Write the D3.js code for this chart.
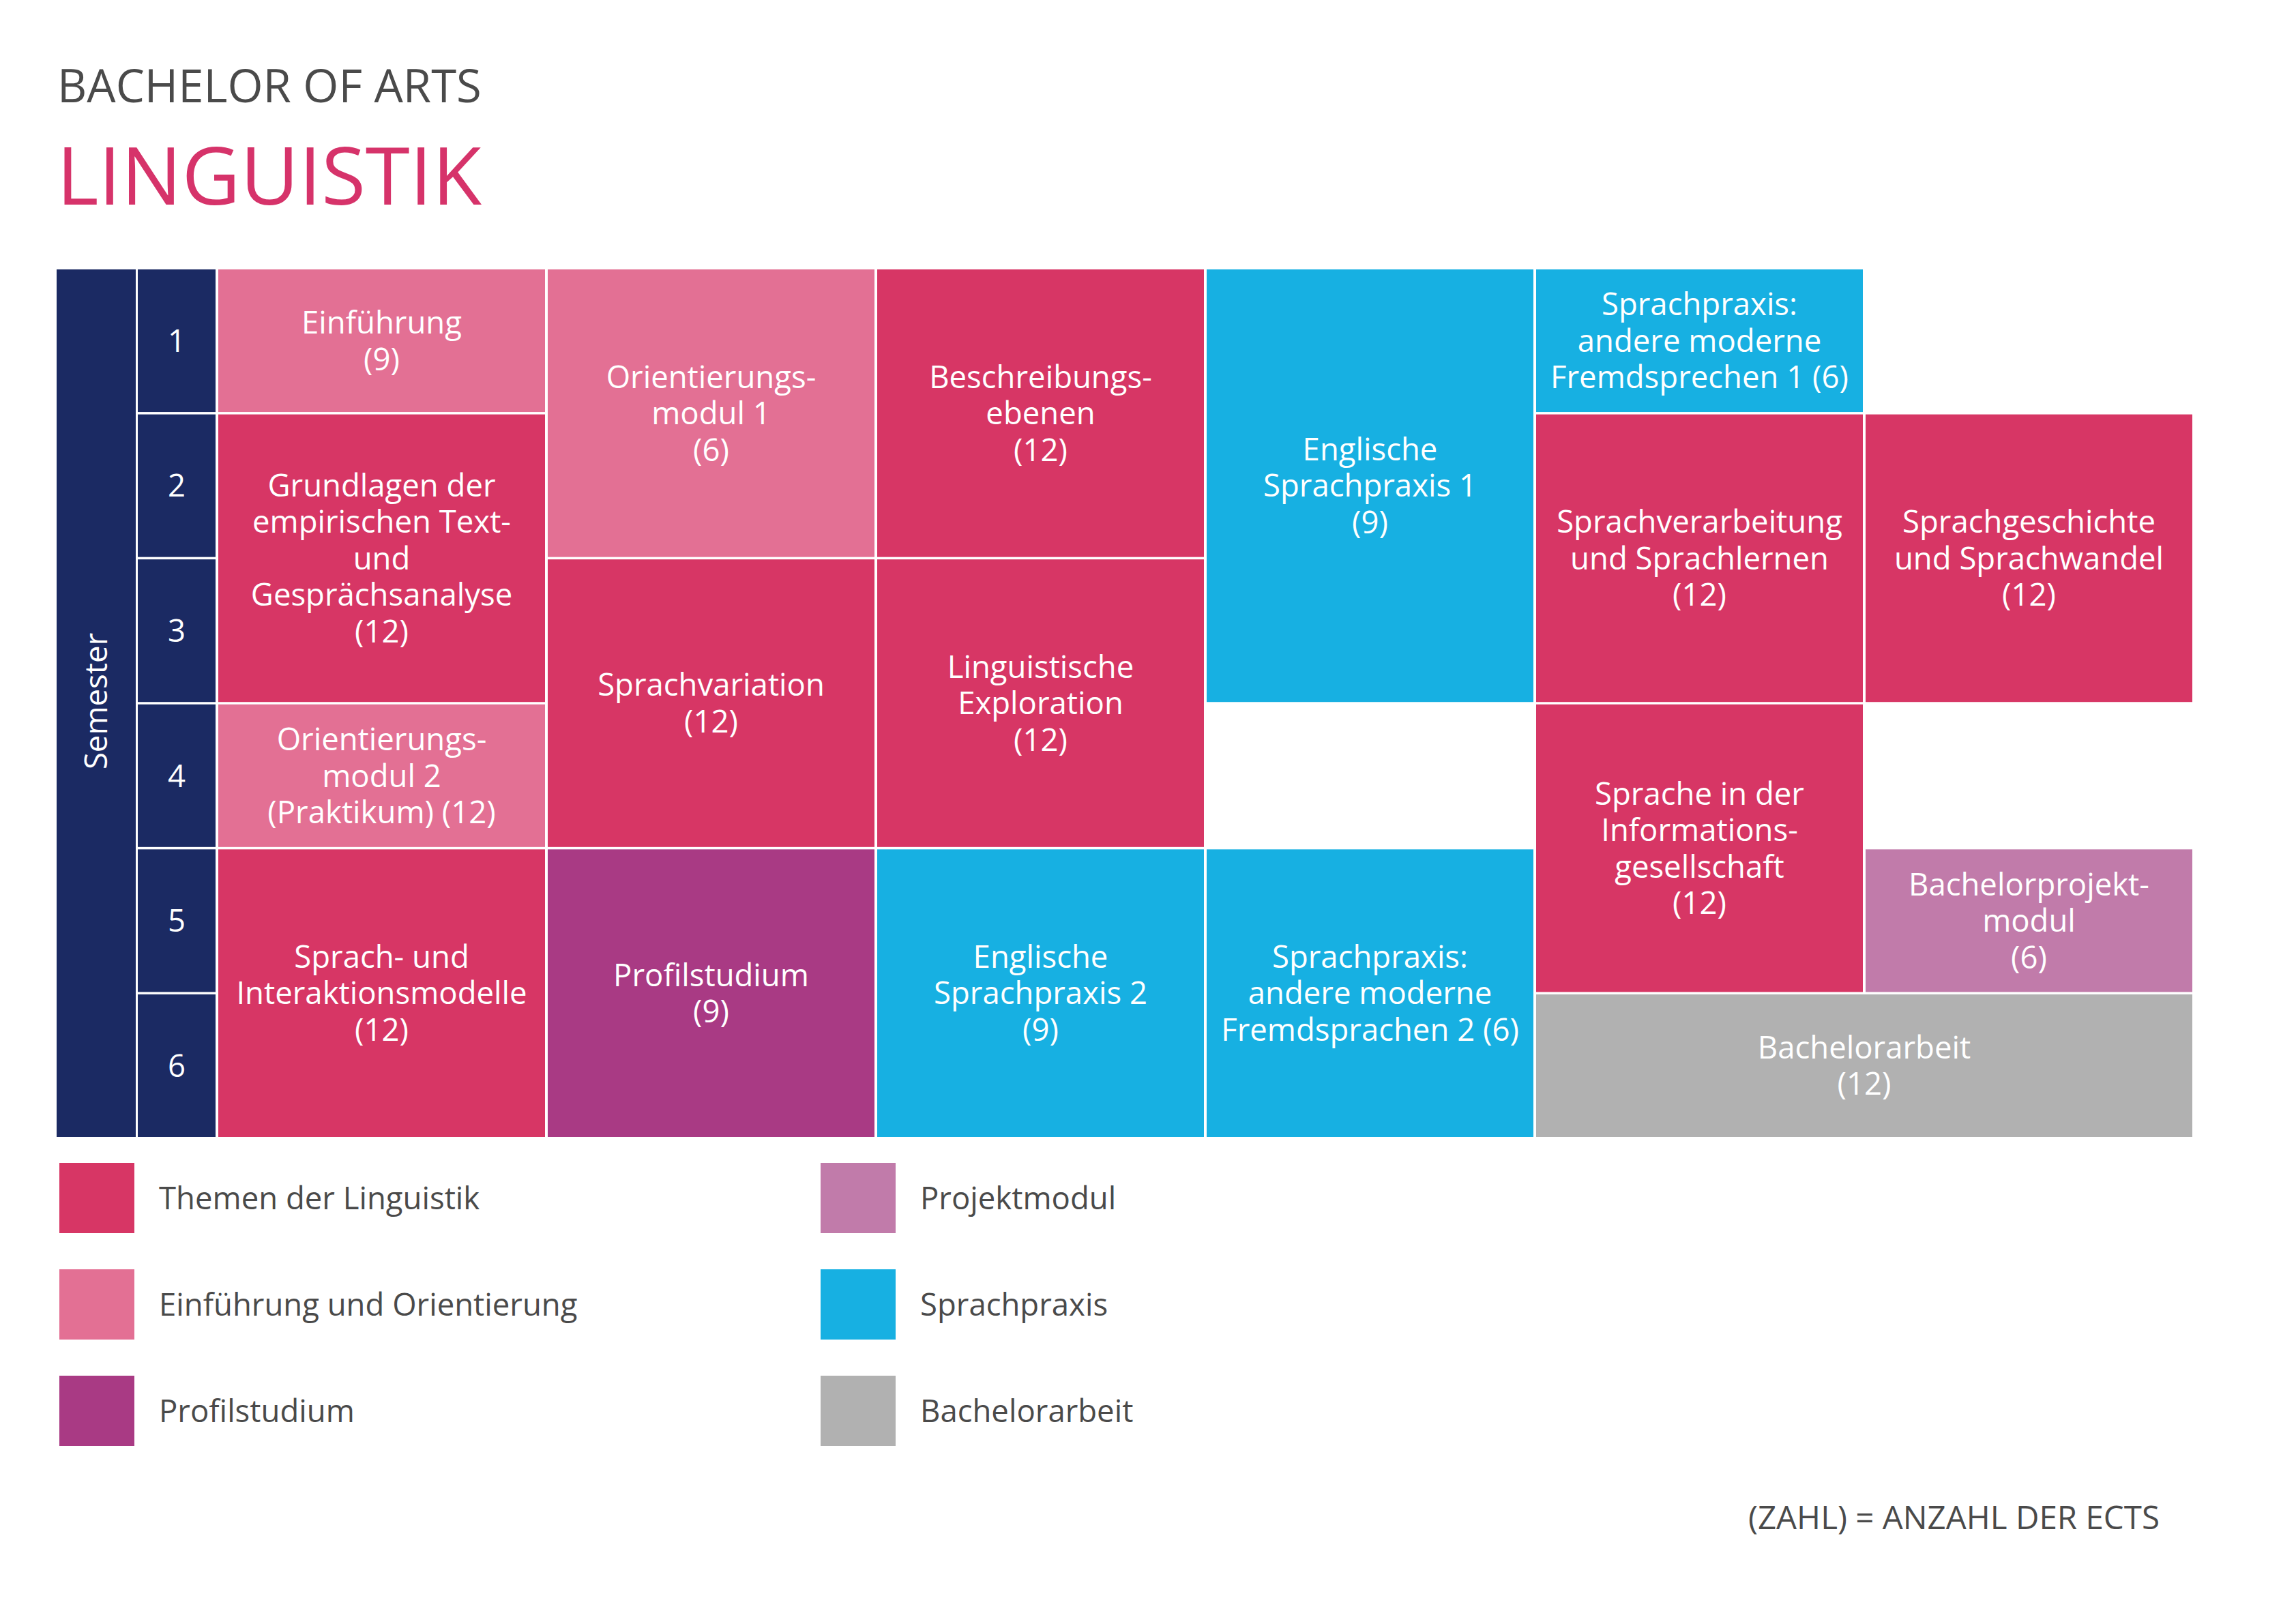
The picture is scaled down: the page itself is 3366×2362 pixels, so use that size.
<!DOCTYPE html>
<html>
<head>
<meta charset="utf-8">
<script src="https://cdn.jsdelivr.net/npm/d3@7"></script>
<style>
  html, body { margin: 0; padding: 0; background: #fff; }
  svg { display: block; font-family: "Open Sans", "Noto Sans", sans-serif; }
</style>
</head>
<body>
<svg id="chart"></svg>
<script>
// Kategorien und Farben
const categories = ["Themen der Linguistik", "Einführung und Orientierung", "Profilstudium",
                    "Projektmodul", "Sprachpraxis", "Bachelorarbeit"];
const categoryColors = ["#d73665", "#e37094", "#a93a84", "#c17baa", "#17b0e2", "#b1b1b1"];

const semesters = [1, 2, 3, 4, 5, 6];

// Module: Zeilen, ECTS, Kategorie, Spalte, Semester (Start), Dauer, Spaltenbreite
const modules = [
  { lines: ["Einführung"], ects: 9, cat: 1, col: 0, sem: 1, span: 1, cols: 1 },
  { lines: ["Grundlagen der", "empirischen Text-", "und", "Gesprächsanalyse"], ects: 12, cat: 0, col: 0, sem: 2, span: 2, cols: 1 },
  { lines: ["Orientierungs-", "modul 2", "(Praktikum)"], ects: 12, cat: 1, col: 0, sem: 4, span: 1, cols: 1, inline: true },
  { lines: ["Sprach- und", "Interaktionsmodelle"], ects: 12, cat: 0, col: 0, sem: 5, span: 2, cols: 1 },
  { lines: ["Orientierungs-", "modul 1"], ects: 6, cat: 1, col: 1, sem: 1, span: 2, cols: 1 },
  { lines: ["Sprachvariation"], ects: 12, cat: 0, col: 1, sem: 3, span: 2, cols: 1 },
  { lines: ["Profilstudium"], ects: 9, cat: 2, col: 1, sem: 5, span: 2, cols: 1 },
  { lines: ["Beschreibungs-", "ebenen"], ects: 12, cat: 0, col: 2, sem: 1, span: 2, cols: 1 },
  { lines: ["Linguistische", "Exploration"], ects: 12, cat: 0, col: 2, sem: 3, span: 2, cols: 1 },
  { lines: ["Englische", "Sprachpraxis 2"], ects: 9, cat: 4, col: 2, sem: 5, span: 2, cols: 1 },
  { lines: ["Englische", "Sprachpraxis 1"], ects: 9, cat: 4, col: 3, sem: 1, span: 3, cols: 1 },
  { lines: ["Sprachpraxis:", "andere moderne", "Fremdsprachen 2"], ects: 6, cat: 4, col: 3, sem: 5, span: 2, cols: 1, inline: true },
  { lines: ["Sprachpraxis:", "andere moderne", "Fremdsprechen 1"], ects: 6, cat: 4, col: 4, sem: 1, span: 1, cols: 1, inline: true },
  { lines: ["Sprachverarbeitung", "und Sprachlernen"], ects: 12, cat: 0, col: 4, sem: 2, span: 2, cols: 1 },
  { lines: ["Sprache in der", "Informations-", "gesellschaft"], ects: 12, cat: 0, col: 4, sem: 4, span: 2, cols: 1 },
  { lines: ["Bachelorarbeit"], ects: 12, cat: 5, col: 4, sem: 6, span: 1, cols: 2 },
  { lines: ["Sprachgeschichte", "und Sprachwandel"], ects: 12, cat: 0, col: 5, sem: 2, span: 2, cols: 1 },
  { lines: ["Bachelorprojekt-", "modul"], ects: 6, cat: 3, col: 5, sem: 5, span: 1, cols: 1 }
];

const width = 3366, height = 2362;
const navy = "#1b2a63", grey = "#4a4a4a";
const fs = 45.5, lh = 53.5, cap = 0.714;

const svg = d3.select("#chart").attr("width", width).attr("height", height);

const x = d3.scaleBand().domain(d3.range(6)).range([320, 3214]).paddingInner(4 / 483);
const y = d3.scaleBand().domain(semesters).range([395, 1667]).paddingInner(3.5 / 212.5);
const gapX = x.step() - x.bandwidth(), gapY = y.step() - y.bandwidth();

// Titel
svg.append("text").attr("x", 84).attr("y", 150)
  .attr("font-size", 67).attr("fill", grey).text("BACHELOR OF ARTS");
svg.append("text").attr("x", 83).attr("y", 300)
  .attr("font-size", 118).attr("fill", "#d6336a").text("LINGUISTIK");

// Semester-Spalte
svg.append("rect").attr("x", 83).attr("y", 395).attr("width", 116).attr("height", 1272).attr("fill", navy);
svg.append("text")
  .attr("transform", `translate(${141 + fs * cap / 2},${1028}) rotate(-90)`)
  .attr("text-anchor", "middle").attr("font-size", fs).attr("fill", "#fff").text("Semester");

const sem = svg.append("g").selectAll("g").data(semesters).join("g");
sem.append("rect").attr("x", 202).attr("y", d => y(d)).attr("width", 114)
  .attr("height", y.bandwidth()).attr("fill", navy);
sem.append("text").attr("x", 259).attr("y", d => y(d) + y.bandwidth() / 2 + fs * cap / 2)
  .attr("text-anchor", "middle").attr("font-size", fs).attr("fill", "#fff").text(d => d);

// Module
const mod = svg.append("g").selectAll("g").data(modules).join("g");
mod.append("rect")
  .attr("x", d => x(d.col))
  .attr("y", d => y(d.sem))
  .attr("width", d => x.step() * d.cols - gapX)
  .attr("height", d => y.step() * d.span - gapY)
  .attr("fill", d => categoryColors[d.cat]);

mod.each(function (d) {
  const lines = d.inline
    ? d.lines.map((l, i) => i === d.lines.length - 1 ? `${l} (${d.ects})` : l)
    : [...d.lines, `(${d.ects})`];
  const cx = x(d.col) + (x.step() * d.cols - gapX) / 2;
  const cy = y(d.sem) + (y.step() * d.span - gapY) / 2;
  const y0 = cy - (lines.length - 1) * lh / 2 + fs * cap / 2;
  d3.select(this).append("text")
    .attr("text-anchor", "middle").attr("font-size", fs).attr("fill", "#fff")
    .selectAll("tspan").data(lines).join("tspan")
    .attr("x", cx).attr("y", (l, i) => y0 + i * lh).text(l => l);
});

// Legende
const legY = d3.scalePoint().domain([0, 1, 2]).range([1705, 2017]);
const legX = [87, 1203];
const legFs = 45.5;
const leg = svg.append("g").selectAll("g").data(categories).join("g")
  .attr("transform", (d, i) => `translate(${legX[Math.floor(i / 3)]},${legY(i % 3)})`);
leg.append("rect").attr("width", 110).attr("height", 103).attr("fill", (d, i) => categoryColors[i]);
leg.append("text").attr("x", 146).attr("y", 51.5 + legFs * cap / 2)
  .attr("font-size", legFs).attr("fill", grey).text(d => d);

// Fußnote
svg.append("text").attr("x", 3166).attr("y", 2242).attr("text-anchor", "end")
  .attr("font-size", 47.5).attr("fill", grey).text("(ZAHL) = ANZAHL DER ECTS");
</script>
</body>
</html>
